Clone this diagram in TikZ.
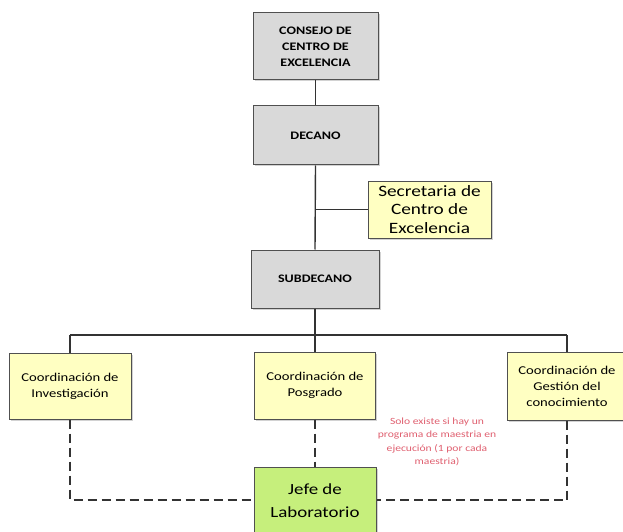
\documentclass[tikz,border=0pt]{standalone}
\usepackage{fontspec}
\setmainfont[FakeStretch=1.22]{Carlito}
\usetikzlibrary{shadows}
\definecolor{boxgray}{HTML}{D9D9D9}
\definecolor{boxyellow}{HTML}{FFFFC2}
\definecolor{boxgreen}{HTML}{C6EF7C}
\definecolor{edgegray}{HTML}{505050}
\definecolor{notered}{HTML}{E06070}
\tikzset{
  base/.style={draw=edgegray, line width=1pt, align=center, inner sep=2pt,
    drop shadow={shadow xshift=1.5pt, shadow yshift=-1.5pt, fill=black!35}},
  graybox/.style={base, fill=boxgray, font=\fontsize{11.5}{16}\selectfont\bfseries},
  yellowbox/.style={base, fill=boxyellow, font=\fontsize{12}{16}\selectfont},
  secbox/.style={base, fill=boxyellow, font=\fontsize{15.8}{18.5}\selectfont},
  greenbox/.style={base, fill=boxgreen, font=\fontsize{15.5}{23}\selectfont},
  conn/.style={draw=black!80, line width=1.4pt},
  dconn/.style={draw=black!80, line width=1.4pt, dash pattern=on 9pt off 5pt},
}
\begin{document}
\begin{tikzpicture}[x=1pt,y=1pt]
\useasboundingbox (0,0) rectangle (623,531);
\fill[white] (0,0) rectangle (623,531);
\coordinate (secj) at (315,321.5);
\coordinate (barc) at (315,196);
\coordinate (barl) at (70,196);
\coordinate (barr) at (567,196);
\coordinate (dl) at (70,31);
\coordinate (dr) at (567,31);

\node[graybox, minimum width=125pt, minimum height=67pt] (consejo) at (315.5,484.5) {CONSEJO DE\\CENTRO DE\\EXCELENCIA};
\node[graybox, minimum width=125pt, minimum height=59pt] (decano) at (315.5,395.5) {DECANO};
\node[secbox, minimum width=123pt, minimum height=57pt] (secre) at (429.5,321.5) {Secretaria de\\Centro de\\Excelencia};
\node[graybox, minimum width=128pt, minimum height=58pt] (subd) at (315,252) {SUBDECANO};
\node[yellowbox, minimum width=122pt, minimum height=66pt] (inv) at (70,145) {Coordinación de\\Investigación};
\node[yellowbox, minimum width=121pt, minimum height=67pt] (posg) at (315,145.5) {Coordinación de\\Posgrado};
\node[yellowbox, minimum width=120pt, minimum height=68pt] (gest) at (567,145) {Coordinación de\\Gestión del\\conocimiento};
\node[greenbox, minimum width=122pt, minimum height=68pt] (jefe) at (315,30) {Jefe de\\Laboratorio};
\node[text=notered, align=center, font=\fontsize{9.5}{13.5}\selectfont] (nota) at (437,89) {Solo existe si hay un\\programa de maestria en\\ejecución (1 por cada\\maestria)};

\draw[conn] (consejo.south) -- (decano.north);
\draw[conn] (decano.south) -- (subd.north);
\draw[conn] (secj) -- (secre.west);
\draw[conn] (subd.south) -- (barc);
\draw[conn] (barl) -- (barr);
\draw[conn] (barl) -- (inv.north);
\draw[conn] (barc) -- (posg.north);
\draw[conn] (barr) -- (gest.north);
\draw[dconn] (inv.south) -- (dl) -- (jefe.west |- dl);
\draw[dconn] (posg.south) -- (jefe.north);
\draw[dconn] (gest.south) -- (dr) -- (jefe.east |- dr);
\end{tikzpicture}
\end{document}
